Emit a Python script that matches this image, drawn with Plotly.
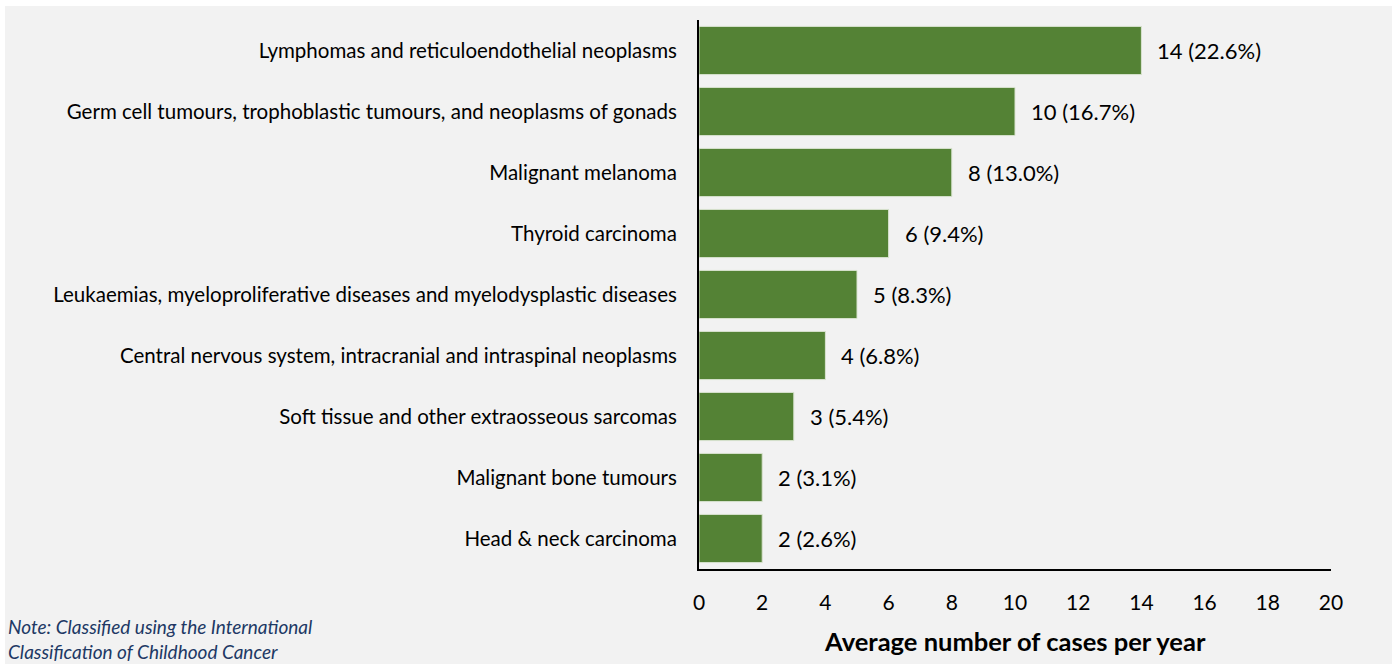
import plotly.graph_objects as go

categories = [
    "Lymphomas and reticuloendothelial neoplasms",
    "Germ cell tumours, trophoblastic tumours, and neoplasms of gonads",
    "Malignant melanoma",
    "Thyroid carcinoma",
    "Leukaemias, myeloproliferative diseases and myelodysplastic diseases",
    "Central nervous system, intracranial and intraspinal neoplasms",
    "Soft tissue and other extraosseous sarcomas",
    "Malignant bone tumours",
    "Head & neck carcinoma",
]
cases = [14, 10, 8, 6, 5, 4, 3, 2, 2]
percents = [22.6, 16.7, 13.0, 9.4, 8.3, 6.8, 5.4, 3.1, 2.6]
x_ticks = [0, 2, 4, 6, 8, 10, 12, 14, 16, 18, 20]

FONT = "Lato"
GREEN = "#548235"

fig = go.Figure()
fig.add_trace(go.Bar(
    x=cases, y=categories, orientation="h",
    marker=dict(color=GREEN, line=dict(color="#d9e3d0", width=1)),
    width=0.79, hoverinfo="skip",
))

annotations = []
for c, v, p in zip(categories, cases, percents):
    annotations.append(dict(
        x=v, y=c, xref="x", yref="y", text=f"{v} ({p:.1f}%)",
        showarrow=False, xanchor="left", xshift=14,
        font=dict(family=FONT, size=22, color="#000000"),
    ))
annotations.append(dict(
    x=-1.096, y=-0.128, xref="paper", yref="paper", xanchor="left", yanchor="middle",
    text="<i>Note: Classified using the International<br>Classification of Childhood Cancer</i>",
    align="left", showarrow=False,
    font=dict(family=FONT, size=19, color="#203864"),
))
annotations.append(dict(
    x=0.5, y=-0.131, xref="paper", yref="paper", xanchor="center", yanchor="middle",
    text="<b>Average number of cases per year</b>", showarrow=False,
    font=dict(family=FONT, size=25.5, color="#000000"),
))

fig.update_layout(
    width=1392, height=664,
    margin=dict(l=699, r=61, t=20, b=95),
    paper_bgcolor="#ffffff",
    plot_bgcolor="#f2f2f2",
    showlegend=False,
    bargap=0.21,
    annotations=annotations,
    shapes=[dict(type="rect", xref="paper", yref="paper",
                 x0=-1.098, x1=1.1, y0=-0.2, y1=1.0255,
                 fillcolor="#f2f2f2", line=dict(width=0), layer="below")],
    font=dict(family=FONT, size=19, color="#000000"),
)
fig.update_xaxes(
    range=[0, 20], tickvals=x_ticks, showgrid=False, zeroline=False,
    showline=True, linecolor="#000000", linewidth=2,
    ticks="outside", ticklen=14, tickcolor="rgba(0,0,0,0)",
    tickfont=dict(family=FONT, size=21, color="#000000"),
)
fig.update_yaxes(
    autorange="reversed", showgrid=False, zeroline=False,
    showline=True, linecolor="#000000", linewidth=2,
    ticks="outside", ticklen=16, tickcolor="rgba(0,0,0,0)",
    tickfont=dict(family=FONT, size=20.5, color="#000000"),
)

fig.write_html("out.html")
